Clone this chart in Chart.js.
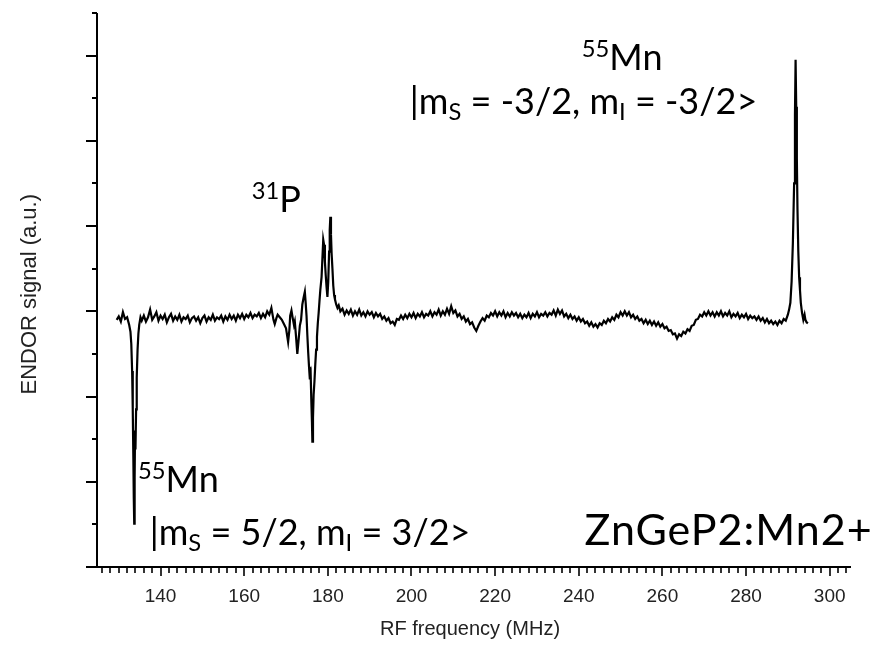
<!DOCTYPE html>
<html>
<head>
<meta charset="utf-8">
<script src="https://cdn.jsdelivr.net/npm/chart.js@4/dist/chart.umd.min.js"></script>
<style>
  html, body { margin: 0; padding: 0; background: #fff; }
  canvas { display: block; }
</style>
</head>
<body>
<canvas id="endor" width="892" height="651"></canvas>
<script>
// ENDOR spectrum of ZnGeP2:Mn2+ : RF frequency (MHz) vs signal (a.u.)
const freqMHz = [
  129.5, 130.0, 130.5, 131.0, 131.5, 132.0, 132.5,
  132.8, 133.0, 133.2, 133.35, 133.5, 133.6, 133.7, 133.8, 133.9, 134.0, 134.15, 134.3, 134.5, 134.7, 134.9, 135.2, 135.5,
  136.0, 136.5, 137.0, 137.5, 138.0, 138.5, 139.0, 139.5, 140.0, 140.5,
  141.0, 141.5, 142.0, 142.5, 143.0, 143.5, 144.0, 144.5, 145.0, 145.5,
  146.0, 146.5, 147.0, 147.5, 148.0, 148.5, 149.0, 149.5, 150.0, 150.5,
  151.0, 151.5, 152.0, 152.5, 153.0, 153.5, 154.0, 154.5, 155.0, 155.5,
  156.0, 156.5, 157.0, 157.5, 158.0, 158.5, 159.0, 159.5, 160.0, 160.5,
  161.0, 161.5, 162.0, 162.5, 163.0, 163.5, 164.0, 164.5, 165.0, 165.5,
  166.0, 166.5, 167.0, 167.3, 167.7, 168.0, 168.5, 169.0, 169.5, 170.0,
  170.5, 170.8, 171.0, 171.3, 171.6, 171.9, 172.1, 172.4, 172.7, 173.0,
  173.3, 173.6, 173.9, 174.2, 174.5, 174.7, 174.9, 175.1, 175.3, 175.5,
  175.7, 175.9, 176.05, 176.2, 176.3, 176.45, 176.6, 176.8, 177.0, 177.2,
  177.4, 177.6, 177.8, 178.0, 178.2, 178.5, 178.7, 178.9, 179.1, 179.3,
  179.5, 179.7, 179.9, 180.1, 180.3, 180.45, 180.6, 180.75, 180.9, 181.1,
  181.3, 181.5, 181.7, 182.0, 182.3, 182.6, 183.0,
  183.5, 184.0, 184.5, 185.0, 185.5, 186.0, 186.5, 187.0, 187.5, 188.0,
  188.5, 189.0, 189.5, 190.0, 190.5, 191.0, 191.5, 192.0, 192.5, 193.0,
  193.5, 194.0, 194.5, 195.0, 195.5, 196.0, 196.5, 197.0, 197.5, 198.0,
  198.5, 199.0, 199.5, 200.0, 200.5, 201.0, 201.5, 202.0, 202.5, 203.0,
  203.5, 204.0, 204.5, 205.0, 205.5, 206.0, 206.5, 207.0, 207.5, 208.0,
  208.5, 209.0, 209.5, 210.0, 210.5, 211.0, 211.5, 212.0, 212.5, 213.0,
  213.5, 214.0, 214.5, 215.0, 215.5, 216.0, 216.5, 217.0, 217.5, 218.0,
  218.5, 219.0, 219.5, 220.0, 220.5, 221.0, 221.5, 222.0, 222.5, 223.0,
  223.5, 224.0, 224.5, 225.0, 225.5, 226.0, 226.5, 227.0, 227.5, 228.0,
  228.5, 229.0, 229.5, 230.0, 230.5, 231.0, 231.5, 232.0, 232.5, 233.0,
  233.5, 234.0, 234.5, 235.0, 235.5, 236.0, 236.5, 237.0, 237.5, 238.0,
  238.5, 239.0, 239.5, 240.0, 240.5, 241.0, 241.5, 242.0, 242.5, 243.0,
  243.5, 244.0, 244.5, 245.0, 245.5, 246.0, 246.5, 247.0, 247.5, 248.0,
  248.5, 249.0, 249.5, 250.0, 250.5, 251.0, 251.5, 252.0, 252.5, 253.0,
  253.5, 254.0, 254.5, 255.0, 255.5, 256.0, 256.5, 257.0, 257.5, 258.0,
  258.5, 259.0, 259.5, 260.0, 260.5, 261.0, 261.5, 262.0, 262.5, 263.0,
  263.5, 264.0, 264.5, 265.0, 265.5, 266.0, 266.5, 267.0, 267.5, 268.0,
  268.5, 269.0, 269.5, 270.0, 270.5, 271.0, 271.5, 272.0, 272.5, 273.0,
  273.5, 274.0, 274.5, 275.0, 275.5, 276.0, 276.5, 277.0, 277.5, 278.0,
  278.5, 279.0, 279.5, 280.0, 280.5, 281.0, 281.5, 282.0, 282.5, 283.0,
  283.5, 284.0, 284.5, 285.0, 285.5, 286.0, 286.5, 287.0, 287.5, 288.0,
  288.5, 289.0, 289.5, 290.0, 290.3,
  290.6, 290.9, 291.2, 291.5, 291.7, 291.85, 292.0, 292.15, 292.3, 292.5,
  292.7, 292.9, 293.1, 293.4, 293.7, 294.0, 294.2, 294.5, 294.8
];

const signal = [
  2.90, 2.94, 2.88, 2.99, 2.91, 2.93, 2.84,
  2.76, 2.62, 2.30, 1.85, 1.25, 0.80, 0.51, 1.05, 1.60, 1.38, 1.85, 2.22, 2.55, 2.74, 2.84, 2.93, 2.89,
  2.95, 2.88, 2.93, 3.02, 2.90, 2.94, 2.99, 2.89, 2.95, 2.91,
  2.96, 2.87, 2.93, 2.97, 2.89, 2.94, 2.90, 2.96, 2.88, 2.93,
  2.91, 2.95, 2.87, 2.92, 2.94, 2.89, 2.93, 2.86, 2.92, 2.95,
  2.88, 2.93, 2.90, 2.96, 2.89, 2.93, 2.91, 2.95, 2.88, 2.94,
  2.90, 2.96, 2.91, 2.95, 2.89, 2.96, 2.92, 2.97, 2.91, 2.96,
  2.93, 2.98, 2.92, 2.96, 2.94, 2.98, 2.92, 2.97, 2.93, 3.00,
  2.96, 3.04, 2.90, 2.85, 2.92, 2.96, 2.93, 2.90, 2.85, 2.80,
  2.64, 2.78, 2.95, 3.01, 2.92, 2.84, 2.88, 2.70, 2.50, 2.66,
  2.83, 2.90, 3.08, 3.16, 3.23, 3.10, 2.95, 2.72, 2.52, 2.35,
  2.20, 2.25, 1.95, 1.70, 1.47, 1.75, 2.02, 2.18, 2.38, 2.55,
  2.70, 2.86, 2.98, 3.12, 3.25, 3.40, 3.62, 3.84, 3.78, 3.58,
  3.42, 3.28, 3.17, 3.35, 3.70, 3.95, 4.11, 3.90, 3.68, 3.50,
  3.30, 3.19, 3.14, 3.08, 3.04, 3.07, 3.00,
  3.03, 2.96, 3.01, 2.97, 3.02, 2.95, 3.00, 2.96, 3.02, 2.95,
  2.99, 2.94, 3.00, 2.96, 2.99, 2.93, 2.98, 2.94, 2.97, 2.91,
  2.94, 2.89, 2.92, 2.86, 2.88, 2.84, 2.91, 2.90, 2.95, 2.91,
  2.96, 2.92, 2.97, 2.93, 2.98, 2.92, 2.97, 2.94, 2.99, 2.93,
  2.97, 2.95, 3.00, 2.94, 2.99, 2.96, 3.02, 2.95, 3.00, 2.96,
  3.03, 2.97, 3.06, 2.98, 3.01, 2.94, 2.97, 2.91, 2.94, 2.88,
  2.91, 2.85, 2.87, 2.81, 2.77, 2.83, 2.88, 2.92, 2.89, 2.95,
  2.93, 2.98, 2.95, 3.00, 2.94, 2.99, 2.95, 3.00, 2.93, 2.98,
  2.94, 2.99, 2.95, 2.98, 2.93, 2.97, 2.92, 2.96, 2.93, 2.98,
  2.92, 2.97, 2.94, 2.99, 2.93, 2.97, 2.95, 2.99, 2.94, 2.98,
  2.96, 3.01, 2.95, 3.02, 2.97, 3.01, 2.94, 2.97, 2.92, 2.96,
  2.91, 2.94, 2.89, 2.93, 2.88, 2.91, 2.86, 2.88, 2.83, 2.87,
  2.82, 2.85, 2.81, 2.86, 2.84, 2.89, 2.86, 2.91, 2.88, 2.93,
  2.90, 2.96, 2.93, 2.99, 2.95, 3.00, 2.95, 2.99, 2.93, 2.96,
  2.91, 2.94, 2.89, 2.91, 2.86, 2.90, 2.85, 2.89, 2.84, 2.88,
  2.83, 2.87, 2.82, 2.85, 2.80, 2.82, 2.77, 2.78, 2.73, 2.74,
  2.68, 2.73, 2.71, 2.76, 2.74, 2.79, 2.77, 2.83, 2.84, 2.90,
  2.91, 2.96, 2.94, 2.99, 2.95, 3.00, 2.95, 2.99, 2.94, 2.99,
  2.95, 3.00, 2.94, 2.98, 2.95, 3.00, 2.93, 2.97, 2.94, 2.98,
  2.92, 2.96, 2.93, 2.97, 2.91, 2.95, 2.92, 2.94, 2.90, 2.94,
  2.89, 2.92, 2.87, 2.91, 2.86, 2.89, 2.85, 2.88, 2.84, 2.89,
  2.86, 2.91, 2.89, 2.96, 3.02,
  3.10, 3.35, 3.80, 4.50, 5.30, 5.95, 5.40, 4.80, 4.20, 3.70,
  3.40, 3.25, 3.10, 2.98, 2.90, 2.96, 2.90, 2.87, 2.86
];

// Labelled frequency ticks and axis range
const freqTicks = [140, 160, 180, 200, 220, 240, 260, 280, 300];
const freqRange = [124.8, 305.1];
const signalRange = [0, 6.5];

const axisFont = '"Liberation Sans", Arial, sans-serif';
const noteFont = 'Lato, "Noto Sans", sans-serif';

// Peak annotations, anchored in data coordinates (freq, signal)
const notes = [
  { at: [240.7, 5.83], size: 36, spacing: 0, parts: [['55', 1], ['Mn', 0]] },
  { at: [199.6, 5.31], size: 36, spacing: 0, parts: [['|m', 0], ['S', -1], [' = -3/2, m', 0], ['I', -1], [' = -3/2>', 0]] },
  { at: [161.8, 4.17], size: 36, spacing: 0, parts: [['31', 1], ['P', 0]] },
  { at: [134.6, 0.88], size: 36, spacing: 0, parts: [['55', 1], ['Mn', 0]] },
  { at: [137.4, 0.26], size: 36, spacing: 0, parts: [['|m', 0], ['S', -1], [' = 5/2, m', 0], ['I', -1], [' = 3/2>', 0]] },
  { at: [241.4, 0.26], size: 43, spacing: 1, parts: [['ZnGeP2:Mn2+', 0]] }
];

function drawRich(ctx, x, y, parts, size, spacing) {
  let cx = x;
  ctx.letterSpacing = spacing + 'px';
  for (const [t, mode] of parts) {
    const s = mode === 0 ? size : size * 0.66;
    const dy = mode === 1 ? -size * 0.36 : (mode === -1 ? size * 0.16 : 0);
    ctx.font = s + 'px ' + noteFont;
    ctx.fillText(t, cx, y + dy);
    cx += ctx.measureText(t).width;
  }
  ctx.letterSpacing = '0px';
}

const framePlugin = {
  id: 'frame',
  afterDraw(chart) {
    const { ctx, chartArea: a, scales: { x, y } } = chart;
    ctx.save();
    ctx.strokeStyle = '#000';
    ctx.fillStyle = '#000';
    ctx.lineWidth = 2;
    ctx.lineCap = 'butt';

    // axis lines
    ctx.beginPath();
    ctx.moveTo(a.left, a.top);
    ctx.lineTo(a.left, a.bottom);
    ctx.lineTo(a.right, a.bottom);
    ctx.stroke();

    // y ticks: major every 1, minor halfway
    for (let v = signalRange[0]; v <= signalRange[1] + 1e-9; v += 0.5) {
      const py = Math.round(y.getPixelForValue(v));
      const len = Math.abs(v - Math.round(v)) < 1e-6 ? 11 : 5;
      ctx.beginPath();
      ctx.moveTo(a.left - len, py);
      ctx.lineTo(a.left, py);
      ctx.stroke();
    }

    // x ticks: minor every 2 MHz, major at labels
    ctx.lineWidth = 1.6;
    for (let f = 126; f <= freqRange[1]; f += 2) {
      const px = Math.round(x.getPixelForValue(f));
      const len = freqTicks.includes(f) ? 9 : 6;
      ctx.beginPath();
      ctx.moveTo(px, a.bottom);
      ctx.lineTo(px, a.bottom + len);
      ctx.stroke();
    }

    // x tick labels
    ctx.fillStyle = '#222';
    ctx.font = '19px ' + axisFont;
    ctx.textAlign = 'center';
    ctx.textBaseline = 'middle';
    for (const f of freqTicks) {
      ctx.fillText(String(f), x.getPixelForValue(f), a.bottom + 30);
    }

    // axis titles
    ctx.font = '20px ' + axisFont;
    ctx.fillText('RF frequency (MHz)', x.getPixelForValue(214), a.bottom + 62);
    ctx.save();
    ctx.translate(30, y.getPixelForValue(3.2));
    ctx.rotate(-Math.PI / 2);
    ctx.font = '22px ' + axisFont;
    ctx.fillText('ENDOR signal (a.u.)', 0, 0);
    ctx.restore();

    // annotations
    ctx.fillStyle = '#000';
    ctx.textAlign = 'left';
    ctx.textBaseline = 'alphabetic';
    for (const n of notes) {
      drawRich(ctx, x.getPixelForValue(n.at[0]), y.getPixelForValue(n.at[1]), n.parts, n.size, n.spacing);
    }
    ctx.restore();
  }
};

new Chart(document.getElementById('endor'), {
  type: 'line',
  data: {
    datasets: [{
      data: freqMHz.map((f, i) => ({ x: f, y: signal[i] })),
      borderColor: '#000',
      borderWidth: 2.2,
      pointRadius: 0,
      tension: 0,
      fill: false
    }]
  },
  options: {
    responsive: false,
    animation: false,
    devicePixelRatio: 1,
    layout: { padding: { left: 97, top: 13, right: 41, bottom: 84 } },
    scales: {
      x: { type: 'linear', min: freqRange[0], max: freqRange[1], display: false },
      y: { min: signalRange[0], max: signalRange[1], display: false }
    },
    plugins: { legend: { display: false }, tooltip: { enabled: false } }
  },
  plugins: [framePlugin]
});
</script>
</body>
</html>
